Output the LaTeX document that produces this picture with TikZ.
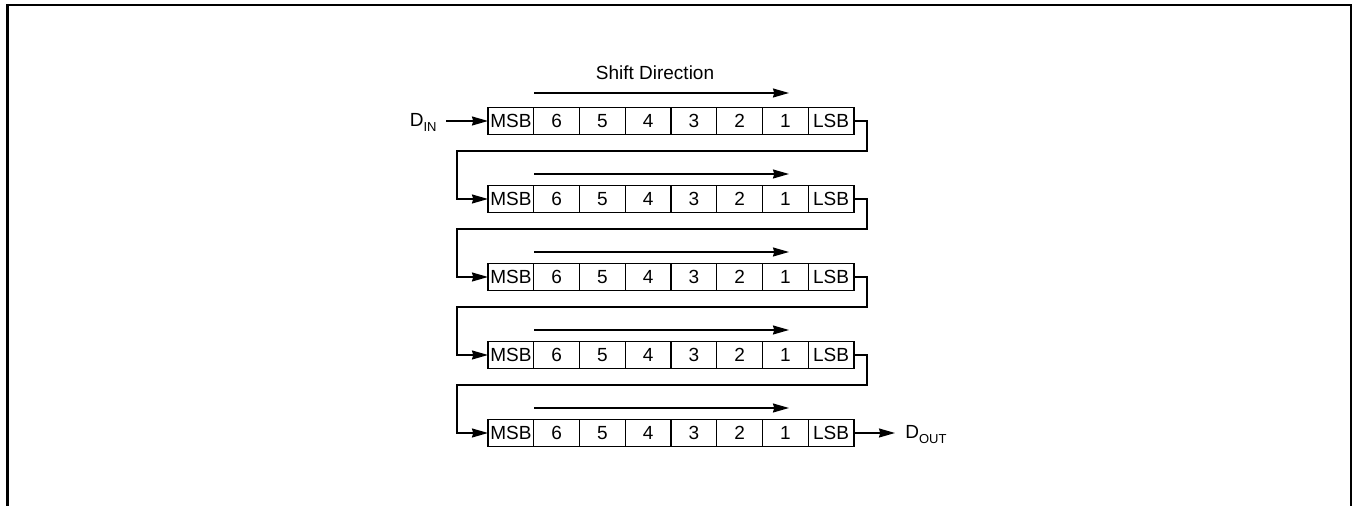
\documentclass[tikz,border=0pt]{standalone}
\usepackage{fontspec}
\setmainfont{Liberation Sans}
\usetikzlibrary{arrows.meta}
\newcommand{\lowsub}[1]{\raisebox{-0.45ex}{\fontsize{6.5}{7}\selectfont #1}}
\begin{document}
\begin{tikzpicture}[x=0.5pt,y=-0.5pt,
  font=\fontsize{9.5}{11}\selectfont,
  cell/.style={draw, line width=0.7pt, minimum width=22.875pt, minimum height=13.5pt,
    inner sep=0pt, outer sep=0pt},
  flow/.style={line width=0.7pt, -{Stealth[length=8pt,width=4.5pt,inset=0.6pt]}},
  wire/.style={line width=0.7pt}]
\useasboundingbox (0,0) rectangle (1357,506);
% page frame, open at the bottom
\draw[line width=1.1pt] (7.5,506) -- (7.5,5) -- (1351,5) -- (1351,506);

% five 8-bit registers
\foreach \r in {1,...,5} {
  \pgfmathsetmacro\yy{121+78*(\r-1)}
  \foreach \t [count=\i from 0] in {MSB,6,5,4,3,2,1,LSB} {
    \node[cell] (c\r\i) at ({488+45.75*(\i+0.5)},\yy) {\t};
  }
}

% shift direction arrows
\node (title) at (655,73) {Shift Direction};
\coordinate (s1) at (534,93);
\coordinate (e1) at (789,93);
\draw[flow] (s1) -- (e1);
\foreach \r in {2,...,5} {
  \pgfmathsetmacro\ya{121+78*(\r-1)-25}
  \coordinate (s\r) at (534,\ya);
  \coordinate (e\r) at (789,\ya);
  \draw[flow] (s\r) -- (e\r);
}

% chaining LSB of each register to MSB of the next
\foreach \r in {1,...,4} {
  \pgfmathsetmacro\yb{121+78*(\r-1)+30}
  \pgfmathtruncatemacro\rn{\r+1}
  \coordinate (ra\r) at (867,\yb);
  \coordinate (rb\r) at (457,\yb);
  \draw[flow] (c\r7.east) -| (ra\r) -- (rb\r) |- (c\rn0.west);
}

% serial input and output
\node[anchor=base east, inner sep=0pt] (din) at (437,126.5) {D\lowsub{IN}};
\coordinate (dinstart) at (446,121);
\draw[flow] (dinstart) -- (c10.west);
\coordinate (doutend) at (895,433);
\draw[flow] (c57.east) -- (doutend);
\node[anchor=base west, inner sep=0pt] (dout) at (905,438.5) {D\lowsub{OUT}};
\end{tikzpicture}
\end{document}
